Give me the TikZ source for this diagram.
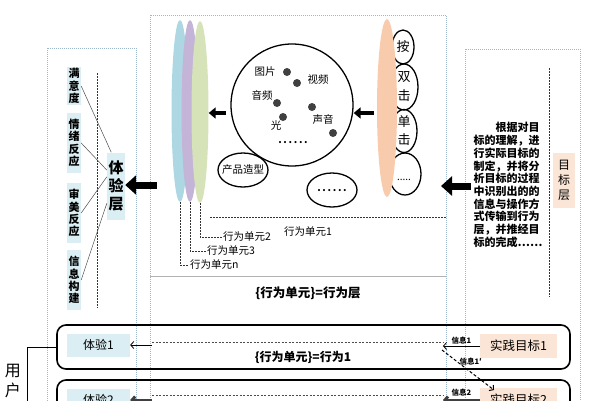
\documentclass[tikz,border=0pt]{standalone}
\usepackage{fontspec}
\setmainfont{Noto Sans CJK SC}
\usetikzlibrary{shapes.geometric,arrows.meta}

\definecolor{framecol}{HTML}{9DB7CF}
\definecolor{lblue}{HTML}{DAEEF3}
\definecolor{lpeach}{HTML}{FBE5D6}
\definecolor{ublue}{HTML}{ADD8E3}
\definecolor{upurple}{HTML}{C3B4D8}
\definecolor{ugreen}{HTML}{D6E3B8}
\definecolor{uorange}{HTML}{F8CBAD}
\definecolor{dotcol}{HTML}{404040}

\tikzset{
  outline/.style={draw=framecol, line width=1pt, dash pattern=on 1pt off 1pt},
  tagbox/.style={fill=lblue, inner sep=1.5pt, align=center, font=\fontsize{11}{12.3}\selectfont\bfseries},
  ubar/.style={ellipse, minimum width=17pt, minimum height=182pt, inner sep=0pt},
  blob/.style={ellipse, draw, line width=1.3pt, inner sep=0pt},
  mdot/.style={circle, fill=dotcol, inner sep=0pt, minimum size=8pt},
  lbl/.style={font=\fontsize{10.5}{12}\selectfont, inner sep=1pt},
  conn/.style={draw=black!70, line width=0.5pt},
  bigarrow/.style={line width=7pt, -{Triangle[length=11pt,width=19pt]}},
  smallarrow/.style={line width=4pt, -{Triangle[length=7pt,width=11pt]}},
  dropline/.style={draw=black!80, dash pattern=on 1.5pt off 1.5pt, line width=0.6pt},
  bandbox/.style={draw, line width=1.6pt, rounded corners=9pt, minimum width=513pt, minimum height=44pt},
  goalbox/.style={fill=lpeach, minimum width=77pt, minimum height=24pt, font=\fontsize{12.5}{14}\selectfont},
  expbox/.style={fill=lblue, minimum width=63pt, minimum height=23pt, font=\fontsize{12}{14}\selectfont},
  linkarrow/.style={line width=0.8pt, -{Straight Barb[length=3pt,width=7pt]}},
  infolbl/.style={font=\fontsize{7.5}{9}\selectfont\bfseries, inner sep=1.5pt},
  trace/.style={draw=black!70, dash pattern=on 2pt off 1.5pt, line width=0.6pt}
}

\begin{document}
\begin{tikzpicture}[x=1pt,y=-1pt]
\useasboundingbox (0,0) rectangle (592,400);
\clip (0,0) rectangle (592,400);

\draw[outline] (47,48) rectangle (136,420);
\draw[outline] (150,15) rectangle (446,420);
\draw[outline] (465,49) rectangle (580,420);

% experience layer
\draw[dropline] (97,73) -- (97,308);
\node[tagbox, minimum height=37pt] (sat) at (74,86) {满\\意\\度};
\node[tagbox, minimum height=60pt] (emo) at (74,143) {情\\绪\\反\\应};
\node[tagbox, minimum height=60pt] (aes) at (74,213) {审\\美\\反\\应};
\node[tagbox, minimum height=60pt] (info) at (74,280) {信\\息\\构\\建};
\node[tagbox, minimum width=18pt, minimum height=67pt, font=\fontsize{15}{18}\selectfont\bfseries] (layer) at (116,186) {体\\验\\层};
\draw[conn] (sat.east) -- (layer.98);
\draw[conn] (emo.east) -- (layer.120);
\draw[conn] (aes.east) -- (layer.135);
\draw[conn] (info.east) -- (layer.242);
\coordinate (la) at (157,185);
\draw[bigarrow] (la) -- (la -| layer.east);

% behaviour layer
\node[ubar, fill=ublue] (un) at (180,111) {};
\node[ubar, fill=upurple] (u3) at (190,111) {};
\node[ubar, fill=ugreen] (u2) at (200,112) {};
\node[lbl, anchor=west] (lun) at (189,265) {行为单元n};
\node[lbl, anchor=west] (lu3) at (206,251) {行为单元3};
\node[lbl, anchor=west] (lu2) at (222,237) {行为单元2};
\node[lbl] (lu1) at (308,232) {行为单元1};
\draw[dropline] (un.south) |- (lun.west);
\draw[dropline] (u3.south) |- (lu3.west);
\draw[dropline] (u2.south) |- (lu2.west);

\node[blob, circle, minimum size=122pt] (media) at (292,105) {};
\node[mdot] (p1) at (287,72) {};
\node[mdot] (p2) at (297,83) {};
\node[mdot] (p3) at (277,103) {};
\node[mdot] (p4) at (283,117) {};
\node[mdot] (p5) at (312,107) {};
\node[mdot] (p6) at (333,133) {};
\node[lbl] (t1) at (265,72) {图片};
\node[lbl] (t2) at (318,80) {视频};
\node[lbl] (t3) at (262,95) {音频};
\node[lbl] (t4) at (276,126) {光};
\node[lbl] (t5) at (323,119) {声音};
\node[lbl, font=\fontsize{10}{12}\selectfont\bfseries] (t6) at (293,143) {.\,.\,.\,.\,.\,.};

\node[blob, minimum width=50pt, minimum height=34pt] (shape) at (243,170) {};
\node[lbl] (shapetxt) at (243,170) {产品造型};
\node[blob, minimum width=50pt, minimum height=34pt] (etc) at (332,190) {};
\node[lbl, font=\fontsize{10}{12}\selectfont\bfseries] (etctxt) at (332,191) {.\,.\,.\,.\,.\,.};

\node[blob, minimum width=22pt, minimum height=34pt, font=\fontsize{13}{18}\selectfont] (press) at (403,47) {按};
\node[blob, minimum width=28pt, minimum height=46pt, font=\fontsize{13}{19}\selectfont, align=center] (dbl) at (404,87) {双\\击};
\node[blob, minimum width=26pt, minimum height=43pt, font=\fontsize{13}{18}\selectfont, align=center] (sgl) at (404,131) {单\\击};
\node[blob, minimum width=32pt, minimum height=42pt] (more) at (405,174) {};
\node[lbl, font=\fontsize{10}{12}\selectfont] (moretxt) at (404,180) {.....};
\node[ubar, fill=uorange, minimum width=20pt, minimum height=178pt] (u1) at (387,108) {};

\coordinate (a1) at (374,113);
\draw[smallarrow] (a1) -- (a1 -| media.east);
\coordinate (a2) at (226,113);
\draw[smallarrow] (a2) -- (a2 -| u2.east);

\draw[dropline] (210,217) -- (446,217);
\draw[gray!60, line width=0.8pt] (150,276) -- (446,276);
\node[font=\fontsize{12.5}{14}\selectfont\bfseries] (behlayer) at (308,293) {\{行为单元\}=行为层};

% goal layer
\draw[dropline] (549,68) -- (549,297);
\node[font=\fontsize{11}{12.7}\selectfont\bfseries, align=left, inner sep=0pt] (goaltext) at (508,185)
  {\hspace*{2em}根据对目\\标的理解，进\\行实际目标的\\制定，并将分\\析目标的过程\\中识别出的的\\信息与操作方\\式传输到行为\\层，并推经目\\标的完成……};
\node[fill=lpeach, minimum width=22pt, minimum height=55pt, align=center, inner sep=1pt, font=\fontsize{12}{15}\selectfont] (glayer) at (564,180) {目\\标\\层};
\coordinate (ra) at (471,186);
\coordinate (rb) at (441,186);
\draw[bigarrow] (ra) -- (rb);

% user rows
\node[bandbox] (band1) at (313.5,347) {};
\node[bandbox] (band2) at (313.5,402) {};
\node[expbox] (exp1) at (98.5,345) {体验1};
\node[expbox] (exp2) at (98.5,400) {体验2};
\node[goalbox] (goal1) at (518.5,346) {实践目标1};
\node[goalbox] (goal2) at (518.5,400) {实践目标2};

\coordinate (l1) at (152,342);
\coordinate (r1) at (443,342);
\draw[trace] (l1) -- (r1);
\draw[linkarrow] (goal1.west) -- node[above, infolbl] {信息1} (goal1.west -| r1);
\draw[linkarrow] (exp1.east -| l1) -- (exp1.east);
\node[font=\fontsize{12}{14}\selectfont\bfseries] (beh1) at (303,357) {\{行为单元\}=行为1};

\coordinate (d1) at (442,350);
\coordinate (d2) at (494,390);
\draw[linkarrow, dash pattern=on 3pt off 2pt, line width=1pt] (d1) -- node[pos=0.3, right, infolbl] {信息1′} (d2);

\coordinate (l2) at (152,395);
\coordinate (r2) at (443,395);
\draw[trace] (l2) -- (r2);
\draw[linkarrow, line width=3pt, draw=black!75] (goal2.west) -- node[above, infolbl, yshift=1pt] {信息2} (goal2.west -| r2);
\draw[linkarrow, line width=3pt, draw=black!75] (exp2.east -| l2) -- (exp2.east);

\node[font=\fontsize{16}{20}\selectfont, align=center] (user) at (13,381) {用\\户};
\coordinate (ub) at (27,420);
\draw[line width=0.6pt] (band1.west) -| (ub);
\end{tikzpicture}
\end{document}
